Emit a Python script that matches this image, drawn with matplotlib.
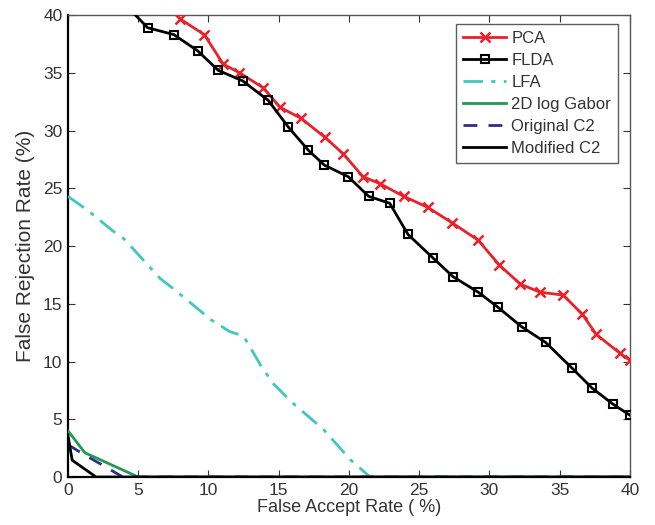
"""
FAR vs FRR curves for six face recognition methods.
"""

import matplotlib
matplotlib.use("Agg")
import matplotlib.pyplot as plt

plt.rcParams["font.family"] = ["Liberation Sans", "DejaVu Sans"]

# ── Data ──────────────────────────────────────────────────────────────────────
pca_far = [6.5, 8.0, 9.7, 11.05, 12.2, 13.9, 15.1, 16.6, 18.3, 19.6, 21.0,
           22.2, 23.9, 25.6, 27.35, 29.2, 30.7, 32.2, 33.6, 35.25, 36.6,
           37.6, 39.3, 40.0]
pca_frr = [41.5, 39.65, 38.3, 35.75, 35.0, 33.7, 32.0, 31.05, 29.4, 27.97,
           26.0, 25.4, 24.3, 23.35, 22.0, 20.5, 18.35, 16.7, 16.0, 15.75,
           14.1, 12.35, 10.7, 10.1]

flda_far = [4.0, 5.67, 7.54, 9.23, 10.7, 12.43, 14.26, 15.68, 17.1, 18.25,
            19.95, 21.4, 22.9, 24.2, 25.95, 27.4, 29.2, 30.6, 32.3, 34.0,
            35.9, 37.3, 38.8, 40.0]
flda_frr = [41.0, 38.9, 38.3, 36.9, 35.2, 34.3, 32.6, 30.3, 28.3, 27.0,
            26.0, 24.3, 23.7, 21.0, 19.0, 17.35, 16.0, 14.7, 13.0, 11.65,
            9.4, 7.7, 6.3, 5.35]

lfa_far = [0.0, 1.5, 3.2, 4.0, 4.9, 6.55, 7.6, 8.9, 10.2, 11.5, 12.5, 13.7,
           14.6, 16.0, 18.2, 20.1, 21.5, 40.0]
lfa_frr = [24.3, 23.0, 21.3, 20.6, 19.4, 17.2, 16.2, 14.9, 13.6, 12.6, 12.2,
           9.7, 8.1, 6.4, 4.1, 1.5, 0.0, 0.0]

gabor_far = [0.0, 1.2, 5.0, 40.0]
gabor_frr = [4.0, 2.1, 0.0, 0.0]

orig_far = [0.0, 0.8, 3.9, 40.0]
orig_frr = [2.8, 2.2, 0.0, 0.0]

mod_far = [0.0, 0.3, 2.0, 40.0]
mod_frr = [3.6, 1.45, 0.0, 0.0]

RED = "#e8212b"
GREEN = "#1e9a52"
CYAN = "#3ec8c0"
NAVY = "#2b2f8c"

fig = plt.figure(figsize=(6.55, 5.25), dpi=100)
ax = fig.add_axes([0.1038, 0.0914, 0.858, 0.88])

ax.plot(pca_far, pca_frr, color=RED, lw=2.0, marker="x", ms=7, mew=1.8,
        label="PCA", zorder=4)
ax.plot(flda_far, flda_frr, color="black", lw=2.0, marker="s", ms=5.5,
        mew=1.5, mfc="none", label="FLDA", zorder=4)
ax.plot(lfa_far, lfa_frr, color=CYAN, lw=2.0, ls=(0, (7, 3, 1.5, 3)),
        label="LFA", zorder=3)
ax.plot(gabor_far, gabor_frr, color=GREEN, lw=2.0, label="2D log Gabor",
        zorder=3)
ax.plot(orig_far, orig_frr, color=NAVY, lw=2.0, ls=(0, (5, 4)),
        label="Original C2", zorder=3)
ax.plot(mod_far, mod_frr, color="black", lw=2.0, label="Modified C2",
        zorder=5)

ax.set_xlim(0, 40)
ax.set_ylim(0, 40)
ax.set_xticks(range(0, 41, 5))
ax.set_yticks(range(0, 41, 5))
ax.tick_params(direction="in", top=True, right=True, length=5,
               labelsize=12.5, colors="#333333", pad=4)
for side in ["top", "right"]:
    ax.spines[side].set_color("#555555")
    ax.spines[side].set_linewidth(1.0)
for side in ["left", "bottom"]:
    ax.spines[side].set_linewidth(1.6)

ax.set_xlabel("False Accept Rate ( %)", fontsize=13, color="#333333",
              labelpad=1)
ax.set_ylabel("False Rejection Rate (%)", fontsize=15, color="#333333",
              labelpad=6)

leg = ax.legend(loc="upper right", bbox_to_anchor=(0.978, 0.98),
                fontsize=12, frameon=True, fancybox=False, handlelength=2.6,
                handletextpad=0.3, borderpad=0.4, labelspacing=0.42,
                borderaxespad=0)
leg.get_frame().set_edgecolor("#333333")
leg.get_frame().set_linewidth(1.0)
for t in leg.get_texts():
    t.set_color("#333333")

fig.savefig("out.png", dpi=100, facecolor="white")
